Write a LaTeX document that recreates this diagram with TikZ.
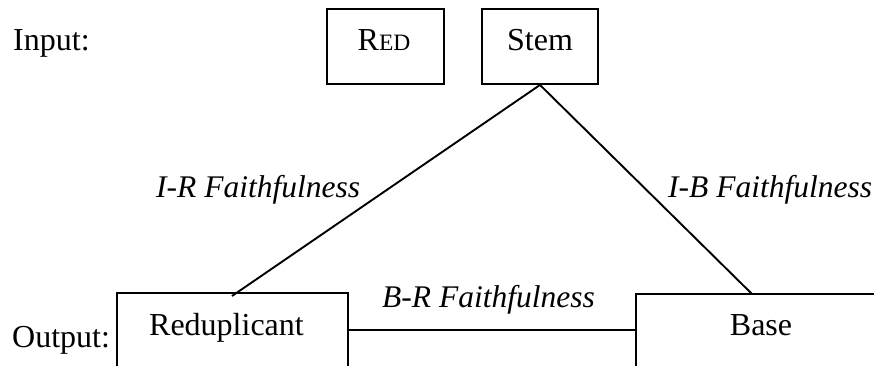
\documentclass[tikz,border=0pt]{standalone}
\usepackage{fontspec}
\setmainfont{Liberation Serif}
\begin{document}
\begin{tikzpicture}[x=1pt,y=-1pt,
  every node/.style={font=\fontsize{32}{36}\selectfont},
  txt/.style={inner sep=0pt, anchor=base},
  txtw/.style={inner sep=0pt, anchor=base west},
  itl/.style={txtw, font=\fontsize{31.5}{36}\selectfont\itshape},
  boxed/.style={draw, line width=1.9pt, inner sep=0pt},
  conn/.style={line width=1.9pt}]
\useasboundingbox (0,0) rectangle (874,366);
\clip (0,0) rectangle (874,366);
% boxes
\node[boxed, minimum width=117pt, minimum height=75pt] (redbox) at (385.5,46.5) {};
\node[boxed, minimum width=116pt, minimum height=75pt] (stembox) at (540,46.5) {};
\node[boxed, minimum width=231pt, minimum height=120pt] (redup) at (232.5,353) {};
\node[boxed, minimum width=300pt, minimum height=120pt] (base) at (786,354) {};
% labels
\node[txtw] (input) at (13,51) {Input:};
\node[txt] (redlabel) at (384,51) {R{\fontsize{23.5}{28}\selectfont ED}};
\node[txt] (stemlabel) at (540,51) {Stem};
\node[txt] (reduplabel) at (226.5,335) {Reduplicant};
\node[txt] (baselabel) at (761,335) {Base};
\node[txtw] (output) at (12,347) {Output:};
\node[itl] (ir) at (156,197) {I-R Faithfulness};
\node[itl] (ib) at (668,197) {I-B Faithfulness};
\node[itl] (br) at (382,307) {B-R Faithfulness};
% connectors
\coordinate (rtop) at (232,296);
\coordinate (btop) at (752,294);
\coordinate (brlev) at (0,330);
\draw[conn] (stembox.south) -- (rtop);
\draw[conn] (stembox.south) -- (btop);
\draw[conn] (redup.east |- brlev) -- (base.west |- brlev);
\end{tikzpicture}
\end{document}
